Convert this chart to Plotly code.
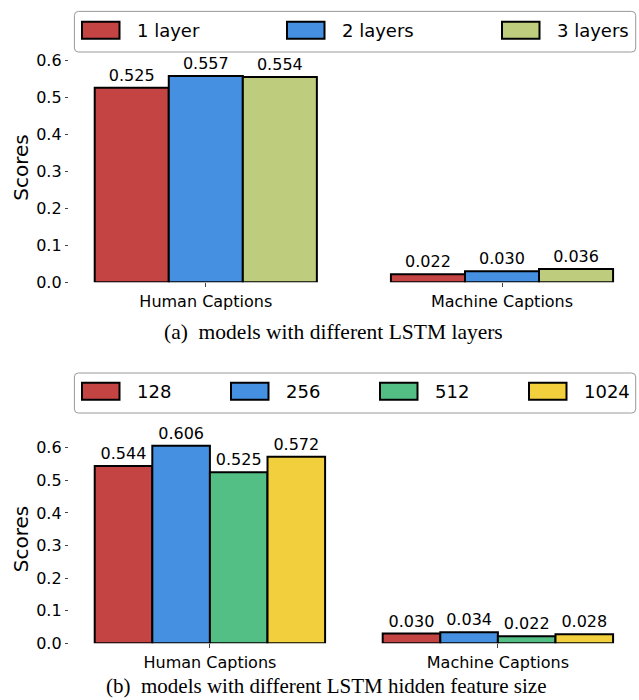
import plotly.graph_objects as go

W, H = 639, 700

categories = ["Human Captions", "Machine Captions"]

layers_names = ["1 layer", "2 layers", "3 layers"]
layers_values = [
    [0.525, 0.022],
    [0.557, 0.030],
    [0.554, 0.036],
]
layers_colors = ["#C44444", "#4590E1", "#BECC7D"]

hidden_names = ["128", "256", "512", "1024"]
hidden_values = [
    [0.544, 0.030],
    [0.606, 0.034],
    [0.525, 0.022],
    [0.572, 0.028],
]
hidden_colors = ["#C44444", "#4590E1", "#53BF84", "#F2CF3C"]

y_ticks = [0.0, 0.1, 0.2, 0.3, 0.4, 0.5, 0.6]

FONT = "DejaVu Sans"

# legend layout (pixel positions of each entry's patch, left edge)
LEG_A_PATCH_X = [82, 287, 502]
LEG_B_PATCH_X = [82, 231, 380, 529]

fig = go.Figure()


def add_group(names, values, colors, xaxis, yaxis, group_width):
    n = len(names)
    w = group_width / n
    for i, (nm, vals, col) in enumerate(zip(names, values, colors)):
        fig.add_trace(go.Bar(
            x=categories, y=vals, name=nm,
            width=w, offset=-group_width / 2 + i * w,
            marker=dict(color=col, line=dict(color="black", width=2)),
            texttemplate="%{y:.3f}", textposition="outside",
            textfont=dict(family=FONT, size=16, color="black"),
            cliponaxis=False, showlegend=False,
            xaxis=xaxis, yaxis=yaxis,
        ))


add_group(layers_names, layers_values, layers_colors, "x", "y", 0.75)
add_group(hidden_names, hidden_values, hidden_colors, "x2", "y2", 0.8)


def px2x(p):
    return p / W


def px2y(p):
    return (H - p) / H


shapes = []
annotations = []


def rounded_box(x0, y0, x1, y1, r=4):
    X0, X1 = px2x(x0), px2x(x1)
    Y0, Y1 = px2y(y0), px2y(y1)
    rx, ry = r / W, r / H
    path = (f"M{X0 + rx},{Y0} L{X1 - rx},{Y0} Q{X1},{Y0} {X1},{Y0 - ry} "
            f"L{X1},{Y1 + ry} Q{X1},{Y1} {X1 - rx},{Y1} L{X0 + rx},{Y1} "
            f"Q{X0},{Y1} {X0},{Y1 + ry} L{X0},{Y0 - ry} Q{X0},{Y0} {X0 + rx},{Y0} Z")
    shapes.append(dict(type="path", xref="paper", yref="paper", path=path,
                       line=dict(color="#999999", width=1), fillcolor="white"))


def add_legend(names, colors, patch_x, box, cy):
    rounded_box(*box)
    for nm, col, px in zip(names, colors, patch_x):
        shapes.append(dict(type="rect", xref="paper", yref="paper",
                           x0=px2x(px), x1=px2x(px + 37.5),
                           y0=px2y(cy + 8.5), y1=px2y(cy - 8.5),
                           fillcolor=col, line=dict(color="black", width=2)))
        annotations.append(dict(text=nm, xref="paper", yref="paper",
                                x=px2x(px + 53), y=px2y(cy), xanchor="left", yanchor="middle",
                                showarrow=False,
                                font=dict(family=FONT, size=18, color="black")))


add_legend(layers_names, layers_colors, LEG_A_PATCH_X, (74.4, 11.4, 635.7, 52), 30.2)
add_legend(hidden_names, hidden_colors, LEG_B_PATCH_X, (74.4, 373, 635.7, 413), 391.3)

annotations.append(dict(text="(a)\u00a0 models with different LSTM layers", xref="paper", yref="paper",
                        x=px2x(333), y=px2y(332), xanchor="center", yanchor="middle", showarrow=False,
                        font=dict(family="Liberation Serif", size=21.5, color="black")))
annotations.append(dict(text="(b)\u00a0 models with different LSTM hidden feature size", xref="paper",
                        yref="paper", x=px2x(326), y=px2y(686), xanchor="center", yanchor="middle",
                        showarrow=False,
                        font=dict(family="Liberation Serif", size=21, color="black")))

x_dom = [px2x(68.8), 1.0]

axis_common = dict(
    showgrid=False, zeroline=False, showline=False, automargin=False,
    tickfont=dict(family=FONT, size=16, color="black"),
    ticks="outside", tickcolor="#444", tickwidth=1,
)
title_font = dict(family=FONT, size=20, color="black")

fig.update_layout(
    width=W, height=H,
    margin=dict(l=0, r=0, t=0, b=0),
    paper_bgcolor="white", plot_bgcolor="white",
    barmode="overlay",
    showlegend=False,
    xaxis=dict(domain=x_dom, anchor="y", type="category",
               range=[-0.4625, 1.4625], ticklen=4, **axis_common),
    yaxis=dict(domain=[px2y(282.3), px2y(52.6)], anchor="x",
               range=[0, 0.62], tickvals=y_ticks, tickformat=".1f", ticklen=3,
               title=dict(text="Scores", font=title_font, standoff=2),
               **axis_common),
    xaxis2=dict(domain=x_dom, anchor="y2", type="category",
                range=[-0.49, 1.49], ticklen=4, **axis_common),
    yaxis2=dict(domain=[px2y(643.3), px2y(434.7)], anchor="x2",
                range=[0, 0.64], tickvals=y_ticks, tickformat=".1f", ticklen=3,
                title=dict(text="Scores", font=title_font, standoff=2),
                **axis_common),
    shapes=shapes,
    annotations=annotations,
)

fig.write_html(
    "out.html",
    config={"displayModeBar": False},
    post_script="document.body.style.margin='0';document.body.style.overflow='hidden';",
)
